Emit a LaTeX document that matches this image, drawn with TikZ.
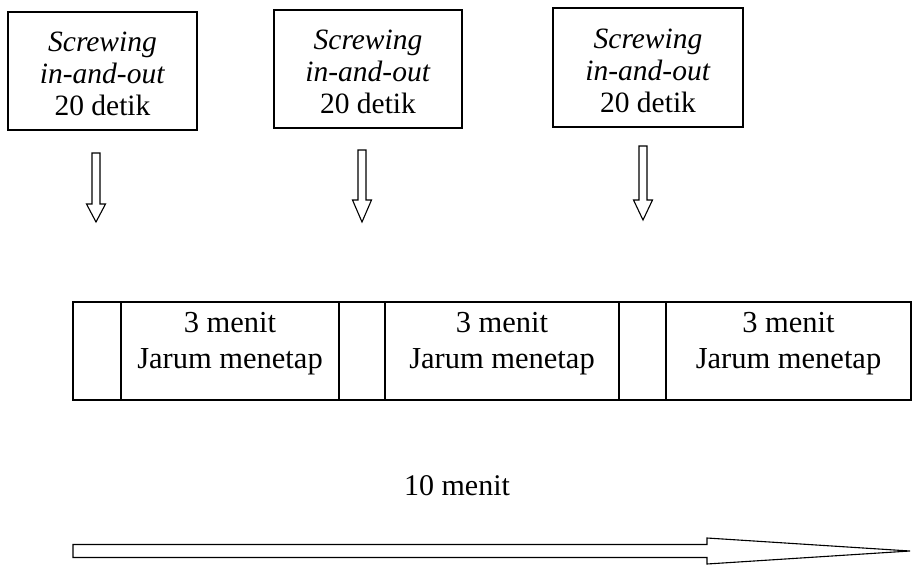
\documentclass[tikz,border=0pt]{standalone}
\usepackage{fontspec}
\setmainfont{Liberation Serif}
\usetikzlibrary{calc}
\begin{document}
\begin{tikzpicture}[x=1pt,y=-1pt,
  boxnode/.style={draw, line width=1.4pt, rectangle, minimum width=189pt, minimum height=118pt, inner sep=0pt},
  boxtext/.style={inner sep=0pt, align=center, font=\fontsize{29.5}{32}\selectfont},
  seg/.style={draw, line width=1.2pt, rectangle, minimum height=98pt, inner sep=0pt},
  lbl/.style={font=\fontsize{30.5}{32}\selectfont, inner sep=0pt, anchor=base},
  blockarrow/.style={draw, line width=1.1pt, fill=white, line join=miter}]
\useasboundingbox (0,0) rectangle (913,568);

% top boxes
\node[boxnode] (b1) at (102.5,71) {};
\node[boxnode, minimum width=188pt] (b2) at (368,69) {};
\node[boxnode, minimum width=190pt, minimum height=119pt] (b3) at (648,67.5) {};
\node[boxtext] (bt1) at ($(b1.center)+(0,3)$) {\textit{Screwing}\\\textit{in-and-out}\\20 detik};
\node[boxtext] (bt2) at ($(b2.center)+(0,3)$) {\textit{Screwing}\\\textit{in-and-out}\\20 detik};
\node[boxtext] (bt3) at ($(b3.center)+(0,3)$) {\textit{Screwing}\\\textit{in-and-out}\\20 detik};

% down block arrows
\coordinate (a1) at (96,153);
\coordinate (a2) at (362,150);
\coordinate (a3) at (643,146);
\draw[blockarrow] (a1) ++(-4,0) -- ++(0,51) -- ++(-5.5,0) -- ++(9.5,18) -- ++(9.5,-18) -- ++(-5.5,0) -- ++(0,-51) -- cycle;
\draw[blockarrow] (a2) ++(-4,0) -- ++(0,50) -- ++(-5.5,0) -- ++(9.5,22) -- ++(9.5,-22) -- ++(-5.5,0) -- ++(0,-50) -- cycle;
\draw[blockarrow] (a3) ++(-4,0) -- ++(0,54) -- ++(-5.5,0) -- ++(9.5,20) -- ++(9.5,-20) -- ++(-5.5,0) -- ++(0,-54) -- cycle;

% time bar
\node[seg, minimum width=48pt] (s0) at (97,351) {};
\node[seg, minimum width=218pt] (m1) at (230,351) {};
\node[seg, minimum width=46pt] (s1) at (362,351) {};
\node[seg, minimum width=234pt] (m2) at (502,351) {};
\node[seg, minimum width=47pt] (s2) at (642.5,351) {};
\node[seg, minimum width=245pt] (m3) at (788.5,351) {};

\node[lbl] (t1a) at ($(m1.center)+(0,-19)$) {3 menit};
\node[lbl] (t1b) at ($(m1.center)+(0,17)$) {Jarum menetap};
\node[lbl] (t2a) at ($(m2.center)+(0,-19)$) {3 menit};
\node[lbl] (t2b) at ($(m2.center)+(0,17)$) {Jarum menetap};
\node[lbl] (t3a) at ($(m3.center)+(0,-19)$) {3 menit};
\node[lbl] (t3b) at ($(m3.center)+(0,17)$) {Jarum menetap};

% total time
\node[lbl, font=\fontsize{30}{32}\selectfont] (ten) at (457,495) {10 menit};

% long block arrow
\coordinate (bs) at (73,551);
\coordinate (bt) at (910,551);
\draw[blockarrow] ($(bs)+(0,-6.5)$) -- (707,544.5) -- (707,538) -- (bt) -- (707,564) -- (707,557.5) -- ($(bs)+(0,6.5)$) -- cycle;
\end{tikzpicture}
\end{document}
